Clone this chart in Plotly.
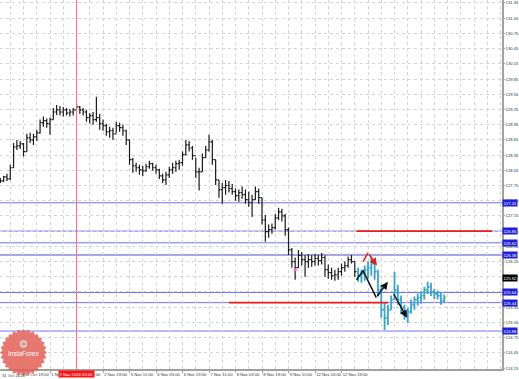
import math
import plotly.graph_objects as go

# ---------------- data ----------------
# H1 chart, one entry per 2 bars; x = bar index
hist_high = [127.90,127.94,127.98,128.16,128.59,128.65,128.63,128.59,128.77,128.79,
             128.77,128.85,129.05,129.11,129.07,129.09,129.28,129.34,129.32,129.30,
             129.28,129.26,129.28,129.36,129.32,129.28,129.24,129.18,129.20,129.50,
             129.16,129.05,128.97,128.91,128.89,129.01,128.99,128.95,128.85,128.65,
             128.30,128.20,128.16,128.14,128.18,128.24,128.20,128.16,128.08,127.98,
             128.02,128.12,128.20,128.24,128.26,128.42,128.65,128.63,128.53,128.30,
             128.10,128.38,128.53,128.75,128.65,128.26,127.86,127.80,127.86,127.84,
             127.78,127.69,127.67,127.73,127.67,127.63,127.57,127.73,127.69,127.51,
             127.17,126.98,127.00,127.19,127.31,127.29,127.19,126.92,126.52,126.33,
             126.48,126.44,126.38,126.40,126.38,126.40,126.38,126.42,126.37,126.19,
             126.13,126.09,126.13,126.21,126.25,126.35,126.38,126.25]
hist_low = [127.80,127.82,127.84,127.86,128.10,128.45,128.47,128.32,128.42,128.59,
            128.55,128.63,128.77,128.91,128.89,128.75,129.05,129.14,129.13,129.11,
            129.13,129.11,129.13,129.20,129.16,129.13,129.01,128.97,128.95,129.01,
            128.85,128.83,128.73,128.69,128.65,128.79,128.81,128.73,128.55,128.16,
            128.00,128.02,127.96,127.94,128.02,128.08,128.04,127.98,127.88,127.80,
            127.76,127.90,127.98,128.02,128.06,128.14,128.34,128.42,128.26,127.90,
            127.65,128.02,128.30,128.42,128.16,127.76,127.51,127.39,127.57,127.61,
            127.57,127.45,127.43,127.49,127.39,127.33,127.13,127.47,127.39,126.98,
            126.64,126.72,126.80,126.88,127.07,127.04,126.76,126.38,126.13,125.89,
            126.13,126.17,125.95,126.13,126.15,126.17,126.17,126.19,125.95,125.91,
            125.89,125.87,125.89,125.97,126.05,126.13,126.21,125.95]
hist_close = [127.84,127.92,127.88,128.10,128.51,128.53,128.57,128.42,128.69,128.65,
              128.71,128.79,128.99,129.03,128.97,129.05,129.20,129.24,129.20,129.24,
              129.18,129.20,129.24,129.30,129.24,129.20,129.09,129.13,129.05,129.09,
              128.97,128.93,128.81,128.83,128.77,128.93,128.89,128.83,128.65,128.26,
              128.14,128.10,128.06,128.04,128.12,128.18,128.10,128.06,127.94,127.86,
              127.96,128.06,128.10,128.18,128.20,128.36,128.55,128.49,128.34,128.02,
              128.02,128.30,128.45,128.61,128.26,127.86,127.67,127.71,127.75,127.69,
              127.63,127.55,127.61,127.57,127.47,127.41,127.47,127.63,127.51,127.07,
              126.84,126.88,126.92,127.11,127.23,127.15,126.88,126.48,126.25,126.13,
              126.37,126.29,126.25,126.29,126.25,126.31,126.27,126.33,126.09,126.03,
              125.97,125.99,126.05,126.13,126.17,126.29,126.25,126.05]

fc_high = [126.13,126.09,126.17,126.25,126.35,126.25,126.09,125.79,125.44,125.40,
           125.58,126.05,125.79,125.58,125.40,125.34,125.50,125.56,125.62,125.66,
           125.75,125.85,125.83,125.71,125.68,125.64,125.60]
fc_low = [125.85,125.83,125.87,125.91,125.97,125.89,125.56,125.14,124.90,125.00,
          125.30,125.50,125.40,125.22,125.10,125.04,125.22,125.30,125.38,125.42,
          125.50,125.61,125.57,125.51,125.50,125.40,125.44]
fc_close = [125.97,126.01,126.09,126.13,126.21,126.05,125.69,125.30,125.14,125.30,
            125.50,125.69,125.50,125.34,125.22,125.26,125.40,125.50,125.54,125.58,
            125.69,125.75,125.65,125.61,125.58,125.48,125.54]

hist_x = list(range(2, 2 + 2 * len(hist_close), 2))
fc_x = list(range(hist_x[-1] + 2, hist_x[-1] + 2 + 2 * len(fc_close), 2))
hist_open = [hist_close[0]] + hist_close[:-1]
fc_open = [hist_close[-1]] + fc_close[:-1]

# x-axis tick labels (bar index -> text)
tick_idx = [16, 32, 48, 64, 80, 96, 112, 128, 144, 160, 176, 192, 208]
tick_txt = ["31 Oct 19:00", "1 Nov 11:00", "2 Nov 03:00", "2 Nov 19:00", "5 Nov 11:00",
            "6 Nov 03:00", "6 Nov 19:00", "7 Nov 11:00", "8 Nov 03:00", "8 Nov 19:00",
            "9 Nov 11:00", "12 Nov 03:00", "12 Nov 19:00"]
first_label = "31 Oct 2018"

# horizontal levels
blue_levels = [127.41, 126.85, 126.62, 125.64, 125.44, 124.88]
dark_level = 126.38
current_price = 125.92
red_upper = dict(y=126.85, x0=217, x1=299)
red_lower = dict(y=125.44, x0=140, x1=236)
vline_idx = 48
vline_label = "2 Nov 2018 03:00"

# forecast arrows (bar index, price)
black_path1_x = [217, 221, 229, 236]
black_path1_y = [125.89, 126.07, 125.54, 125.85]
black_path2_x = [239, 247.5]
black_path2_y = [125.64, 125.14]
red_path_x = [221, 224, 229.4]
red_path_y = [126.25, 126.42, 126.17]
pink_x, pink_y = [180], [126.09]

# ---------------- figure ----------------
W, H = 519, 379
ML, MR, MT, MB = 0, 17, 0, 10
PW, PH = W - ML - MR, H - MT - MB
X0, X1 = 1.8, 304.9
Y0, Y1 = 124.131, 131.409

BLUE = "#7272f2"
GRID = "#d4d4d4"
AXC = "#a0a0a0"
FONT = "Liberation Sans"
FS = 4.2
TXT = "#333333"

fig = go.Figure()

# level lines
shapes = []
for lv in blue_levels:
    shapes.append(dict(type="line", xref="paper", x0=0, x1=1, yref="y", y0=lv, y1=lv,
                       line=dict(color=BLUE, width=1), layer="between"))
shapes.append(dict(type="line", xref="paper", x0=0, x1=1, yref="y", y0=dark_level, y1=dark_level,
                   line=dict(color="#4848cc", width=1), layer="between"))

# vertical red line (drawn as a trace so it sits above the grid)
fig.add_trace(go.Scatter(x=[vline_idx, vline_idx], y=[Y0, Y1], mode="lines",
                         line=dict(color="#f07070", width=1), showlegend=False, hoverinfo="skip"))
# red horizontal segments
for r in (red_upper, red_lower):
    fig.add_trace(go.Scatter(x=[r["x0"], r["x1"]], y=[r["y"], r["y"]], mode="lines",
                             line=dict(color="#f01c1c", width=1.6), showlegend=False, hoverinfo="skip"))

# price bars
fig.add_trace(go.Ohlc(x=hist_x, open=hist_open, high=hist_high, low=hist_low, close=hist_close,
                      increasing=dict(line=dict(color="#1a1a1a", width=1.2)),
                      decreasing=dict(line=dict(color="#1a1a1a", width=1.2)),
                      tickwidth=0.45, showlegend=False, hoverinfo="skip"))
fig.add_trace(go.Ohlc(x=fc_x, open=fc_open, high=fc_high, low=fc_low, close=fc_close,
                      increasing=dict(line=dict(color="#3aa3cc", width=1.8)),
                      decreasing=dict(line=dict(color="#3aa3cc", width=1.8)),
                      tickwidth=0.45, showlegend=False, hoverinfo="skip"))

# forecast zigzags
fig.add_trace(go.Scatter(x=black_path1_x[:-1], y=black_path1_y[:-1], mode="lines",
                         line=dict(color="#111111", width=1.5), showlegend=False, hoverinfo="skip"))
fig.add_trace(go.Scatter(x=red_path_x[:-1], y=red_path_y[:-1], mode="lines",
                         line=dict(color="#e02020", width=1.5), showlegend=False, hoverinfo="skip"))
fig.add_trace(go.Scatter(x=pink_x, y=pink_y, mode="markers",
                         marker=dict(color="#ff66cc", size=3, symbol="square"),
                         showlegend=False, hoverinfo="skip"))

annotations = []
def arrow(xs, ys, color):
    annotations.append(dict(x=xs[-1], y=ys[-1], ax=xs[-2], ay=ys[-2], xref="x", yref="y",
                            axref="x", ayref="y", showarrow=True, arrowhead=2, arrowsize=1,
                            arrowwidth=1.5, arrowcolor=color, text=""))
arrow(black_path1_x, black_path1_y, "#111111")
arrow(black_path2_x, black_path2_y, "#111111")
arrow(red_path_x, red_path_y, "#e02020")

# right-axis price boxes
for lv in blue_levels + [dark_level]:
    annotations.append(dict(xref="paper", x=1, xanchor="left", xshift=0, yref="y", y=lv,
                            text=f"{lv:.2f}", showarrow=False, bgcolor="#1f1fd6",
                            font=dict(color="white", size=FS, family=FONT), borderpad=0.5))
annotations.append(dict(xref="paper", x=1, xanchor="left", xshift=0, yref="y", y=current_price,
                        text=f"{current_price:.2f}", showarrow=False, bgcolor="#000000",
                        font=dict(color="white", size=FS, family=FONT), borderpad=0.5))
# red time label on x-axis
annotations.append(dict(xref="x", x=vline_idx, yref="paper", y=0, yanchor="top", yshift=-1,
                        text=vline_label, showarrow=False, bgcolor="#ff1010",
                        font=dict(color="white", size=FS, family=FONT), borderpad=0.5))
# first (clipped) date label
annotations.append(dict(xref="paper", x=0, xanchor="left", yref="paper", y=0, yanchor="top",
                        yshift=-1.5, text=first_label, showarrow=False,
                        font=dict(color=TXT, size=FS, family=FONT)))

# InstaForex seal (decoration)
cxp, cyp, rpx = 23.5, 352.5, 23.5
pts = []
n = 28
for k in range(2 * n):
    ang = math.pi * k / n
    rr = rpx if k % 2 == 0 else rpx - 2.5
    px = cxp + rr * math.cos(ang)
    py = cyp + rr * math.sin(ang)
    pts.append((px / PW, 1 - py / PH))
path = "M " + " L ".join(f"{a:.5f},{b:.5f}" for a, b in pts) + " Z"
shapes.append(dict(type="path", xref="paper", yref="paper", path=path,
                   fillcolor="rgba(226,96,86,0.85)", line=dict(width=0), layer="above"))
shapes.append(dict(type="circle", xref="paper", yref="paper",
                   x0=(cxp - 3.2) / PW, x1=(cxp + 3.2) / PW,
                   y0=1 - (344 + 3.2) / PH, y1=1 - (344 - 3.2) / PH,
                   line=dict(color="white", width=1), fillcolor="rgba(255,255,255,0.25)", layer="above"))
annotations.append(dict(xref="paper", yref="paper", x=cxp / PW, y=1 - 353.5 / PH, text="InstaForex",
                        showarrow=False, xanchor="center", yanchor="middle",
                        font=dict(color="white", size=6.5, family=FONT)))

fig.update_layout(
    width=W, height=H, margin=dict(l=ML, r=MR, t=MT, b=MB, pad=0),
    paper_bgcolor="white", plot_bgcolor="white",
    shapes=shapes, annotations=annotations, showlegend=False,
    xaxis=dict(range=[X0, X1], rangeslider=dict(visible=False), tickmode="array",
               tickvals=tick_idx, ticktext=tick_txt, ticklabelposition="outside right",
               tickangle=0, tickfont=dict(size=FS, color=TXT, family=FONT),
               ticks="outside", ticklen=2, tickcolor=AXC,
               showgrid=True, gridcolor=GRID, griddash="dot", gridwidth=1,
               minor=dict(tickmode="linear", tick0=0, dtick=8, showgrid=True,
                          gridcolor=GRID, griddash="dot", ticks=""),
               showline=True, linecolor=AXC, linewidth=1.5, zeroline=False,
               automargin=False, fixedrange=True),
    yaxis=dict(range=[Y0, Y1], side="right", tickmode="linear", tick0=124.15, dtick=0.3,
               tickformat=".2f", tickfont=dict(size=FS, color=TXT, family=FONT),
               ticks="outside", ticklen=1, tickcolor=AXC,
               showgrid=True, gridcolor=GRID, griddash="dot", gridwidth=1,
               showline=True, linecolor=AXC, linewidth=1.5, zeroline=False,
               automargin=False, fixedrange=True),
)

fig.write_html("out.html")
